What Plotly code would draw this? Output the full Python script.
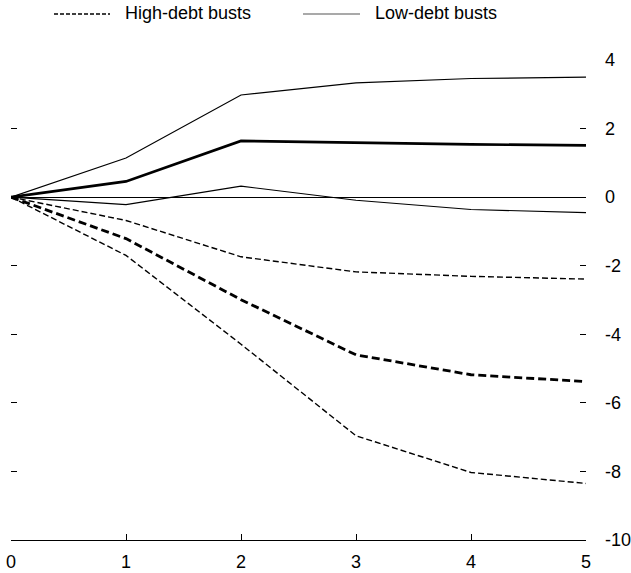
import plotly.graph_objects as go

# Data
years = [0, 1, 2, 3, 4, 5]
high_mid = [0, -1.21, -2.99, -4.60, -5.18, -5.38]
high_upper = [0, -0.68, -1.74, -2.18, -2.31, -2.39]
high_lower = [0, -1.70, -4.29, -6.96, -8.03, -8.35]
low_mid = [0, 0.46, 1.64, 1.58, 1.54, 1.51]
low_upper = [0, 1.14, 2.98, 3.33, 3.46, 3.50]
low_lower = [0, -0.22, 0.32, -0.09, -0.36, -0.45]

y_ticks = [4, 2, 0, -2, -4, -6, -8, -10]
y_tick_text = ["4", "2", "0", "-2", "-4", "-6", "-8", "-10"]
left_ticks = [4, 2, 0, -2, -4, -6, -8]
x_ticks = [0, 1, 2, 3, 4, 5]
x_tick_text = ["0", "1", "2", "3", "4", "5"]
legend_names = ["High-debt busts", "Low-debt busts"]

FONT = "Liberation Sans, Arial, sans-serif"

fig = go.Figure()

def add(y, dash, width, name):
    fig.add_trace(go.Scatter(
        x=years, y=y, mode="lines", name=name, showlegend=False,
        line=dict(color="black", width=width, dash=dash), yaxis="y",
    ))

add(low_upper, "solid", 1.2, legend_names[1])
add(low_lower, "solid", 1.2, legend_names[1])
add(low_mid, "solid", 2.6, legend_names[1])
add(high_upper, "6px,3px", 1.4, legend_names[0])
add(high_lower, "6px,3px", 1.4, legend_names[0])
add(high_mid, "8px,4px", 2.8, legend_names[0])

# dummy trace for left-side tick axis
fig.add_trace(go.Scatter(x=[None], y=[None], yaxis="y2", showlegend=False, hoverinfo="skip"))

PL, PT, PW, PH = 11, 60, 575, 480
W, H = 631, 573

fig.update_layout(
    width=W, height=H,
    margin=dict(l=PL, r=W - PL - PW, t=PT, b=H - PT - PH, autoexpand=False),
    paper_bgcolor="white", plot_bgcolor="white",
    font=dict(family=FONT, size=18, color="black"),
    showlegend=False,
    xaxis=dict(
        range=[0, 5], tickvals=x_ticks, ticktext=x_tick_text, ticks="inside",
        ticklen=6, tickwidth=1, automargin=False, ticklabeloverflow="allow",
        tickcolor="black", showline=True, linecolor="black", linewidth=1.2,
        showgrid=False, zeroline=False, ticklabelstandoff=5,
        tickfont=dict(size=18),
    ),
    yaxis=dict(
        range=[-10, 4], tickvals=y_ticks, ticktext=y_tick_text, side="right",
        ticks="inside", automargin=False, ticklabeloverflow="allow",
        ticklen=6, tickwidth=1, tickcolor="black", showline=False,
        showgrid=False, zeroline=True, zerolinecolor="black", zerolinewidth=1,
        ticklabelstandoff=18, tickfont=dict(size=18),
    ),
    yaxis2=dict(
        range=[-10, 4], tickvals=left_ticks, side="left", overlaying="y",
        ticks="inside", ticklen=6, tickwidth=1, tickcolor="black",
        automargin=False,
        showticklabels=False, showline=False, showgrid=False, zeroline=False,
    ),
)

# Manual legend (positions in reference-picture pixels)
def px_x(p):
    return (p - PL) / PW

def px_y(p):
    return (PT + PH - p) / PH

fig.add_shape(type="line", xref="paper", yref="paper",
              x0=px_x(54), x1=px_x(110), y0=px_y(14), y1=px_y(14),
              line=dict(color="black", width=1.4, dash="4px,2px"))
fig.add_shape(type="line", xref="paper", yref="paper",
              x0=px_x(303), x1=px_x(360), y0=px_y(14), y1=px_y(14),
              line=dict(color="#555555", width=1.2))
fig.add_annotation(xref="paper", yref="paper", x=px_x(123), y=px_y(13),
                   text=legend_names[0], showarrow=False, xanchor="left",
                   yanchor="middle", font=dict(size=18))
fig.add_annotation(xref="paper", yref="paper", x=px_x(373), y=px_y(13),
                   text=legend_names[1], showarrow=False, xanchor="left",
                   yanchor="middle", font=dict(size=18))

fig.write_html("out.html", config={"displayModeBar": False},
               post_script="document.body.style.margin='0';")
